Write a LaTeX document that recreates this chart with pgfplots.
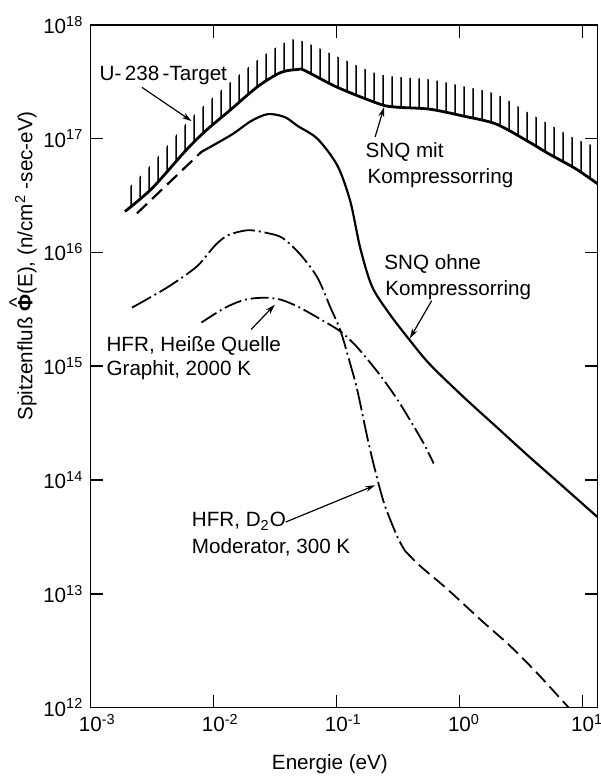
\documentclass[border=0pt]{standalone}
\usepackage{fontspec}
\setmainfont{Liberation Sans}
\usepackage{pgfplots}
\pgfplotsset{compat=1.18}
\usepgfplotslibrary{fillbetween}
\usetikzlibrary{patterns,arrows.meta}

% vertical hatching for the band above the SNQ curve
\pgfdeclarepatternformonly{vhatch}{\pgfqpoint{0pt}{0pt}}{\pgfqpoint{4.6pt}{4pt}}{\pgfqpoint{4.6pt}{4pt}}{%
  \pgfsetlinewidth{0.75pt}%
  \pgfpathmoveto{\pgfqpoint{2.3pt}{0pt}}%
  \pgfpathlineto{\pgfqpoint{2.3pt}{4pt}}%
  \pgfusepath{stroke}}

\newcommand{\lbl}{\fontsize{10.4}{12.5}\selectfont}
% bold Phi with a hat on top
\newcommand{\Phihat}{{\ooalign{\textbf{Φ}\cr\hidewidth\raisebox{0.42em}{\textasciicircum}\hidewidth\cr}}}

\begin{document}
\begin{tikzpicture}
% page frame, in 0.5pt units measured from the top left corner
\begin{scope}[x=0.5pt,y=-0.5pt,shift={(-45.5pt,356.5pt)}]
  \useasboundingbox (0,0) rectangle (603,780);
\end{scope}

\begin{axis}[
  at={(0pt,0pt)}, anchor=south west,
  scale only axis, width=255.5pt, height=344pt,
  xmode=log, ymode=log,
  xmin=1e-3, xmax=13.21, ymin=1e12, ymax=1e18,
  xtick={1e-3,1e-2,1e-1,1,10},
  xticklabels={10\rlap{\textsuperscript{-3}},10\rlap{\textsuperscript{-2}},10\rlap{\textsuperscript{-1}},10\rlap{\textsuperscript{0}},10\rlap{\textsuperscript{1}}},
  ytick={1e12,1e13,1e14,1e15,1e16,1e17,1e18},
  yticklabels={10\textsuperscript{12},10\textsuperscript{13},10\textsuperscript{14},10\textsuperscript{15},10\textsuperscript{16},10\textsuperscript{17},10\textsuperscript{18}},
  xminorticks=false, yminorticks=false,
  tick align=inside, major tick length=6.5pt,
  axis line style={line width=0.8pt},
  tick style={line width=0.8pt, black},
  tick label style={font=\lbl},
  label style={font=\lbl},
  xlabel={Energie (eV)},
  ylabel={Spitzenfluß \Phihat(E), (n/cm\textsuperscript{2} -sec-eV)},
  xlabel style={at={(axis description cs:0.4725,-0.0901)}, anchor=base},
  ylabel style={at={(axis description cs:-0.127,0.647)}, anchor=center},
]

% SNQ mit Kompressorring (U-238-Target)
\addplot[name path=mit, line width=1.4pt, smooth, tension=0.5] coordinates {
  (1.914e-3,2.29e16) (3.162e-3,3.64e16) (5.94e-3,7.81e16) (8.62e-3,1.166e17)
  (1.397e-2,1.814e17) (2.306e-2,2.88e17) (3.536e-2,3.815e17) (4.85e-2,4.05e17)
  (5.52e-2,3.97e17) (0.1019,2.82e17) (0.2263,2.006e17) (0.3103,1.889e17)
  (0.5729,1.814e17) (1.077,1.577e17) (1.988,1.342e17) (3.668,9.35e16)
  (5.32,7.35e16) (8.78,5.44e16) (13.2,4.02e16)
};
% upper end of the hatched band
\addplot[draw=none, name path=env, smooth, tension=0.5] coordinates {
  (1.914e-3,3.43e16) (3.162e-3,6.01e16) (5.94e-3,1.342e17) (8.62e-3,2.006e17)
  (1.397e-2,3.18e17) (2.306e-2,4.95e17) (3.536e-2,6.69e17) (4.85e-2,7.40e17)
  (0.1019,5.26e17) (0.2263,3.66e17) (0.5729,3.31e17) (1.077,2.88e17)
  (1.988,2.45e17) (3.668,1.675e17) (5.32,1.342e17) (8.78,9.93e16) (13.2,8.46e16)
};
\addplot[pattern=vhatch, draw=none] fill between[of=mit and env];

% SNQ ohne Kompressorring
\addplot[line width=1.1pt, dash pattern=on 7pt off 3.5pt] coordinates {
  (2.393e-3,2.203e16) (8.0e-3,7.65e16)
};
\addplot[line width=1.1pt, smooth, tension=0.5] coordinates {
  (8.0e-3,7.65e16) (1.397e-2,1.077e17) (2.025e-2,1.426e17) (2.777e-2,1.641e17)
  (3.807e-2,1.545e17) (4.85e-2,1.29e17) (7.03e-2,9.93e16) (0.1019,5.78e16)
  (0.1297,2.80e16) (0.1562,1.091e16) (0.1951,4.99e15)
  (0.2726,2.842e15) (0.3953,1.686e15) (0.5729,1.041e15) (1.077,5.37e14)
  (1.988,2.94e14) (3.668,1.609e14) (6.90,8.81e13) (13.2,4.73e13)
};

% HFR, D2O moderator, 300 K
\addplot[line width=0.9pt, smooth, tension=0.5, dash pattern=on 11pt off 2pt on 1pt off 2pt] coordinates {
  (2.181e-3,3.27e15) (3.807e-3,4.60e15) (5.52e-3,5.97e15) (7.57e-3,7.76e15)
  (1.038e-2,1.159e16) (1.321e-2,1.417e16) (1.915e-2,1.566e16) (2.777e-2,1.475e16)
  (3.668e-2,1.334e16) (5.13e-2,9.48e15) (7.03e-2,5.97e15) (8.95e-2,3.27e15)
  (0.1077,2.06e15) (0.1297,1.041e15) (0.1477,6.18e14) (0.1778,2.40e14)
  (0.2025,1.316e14) (0.2438,6.26e13) (0.3103,3.23e13) (0.3601,2.39e13)
};
\addplot[line width=0.9pt, smooth, tension=0.5, dash pattern=on 7pt off 3pt] coordinates {
  (0.3601,2.39e13) (0.4758,1.767e13) (0.7855,1.113e13) (1.561,5.63e12)
  (2.53,3.55e12) (4.18,2.06e12) (6.40,1.248e12) (7.71,1.0e12)
};

% HFR, hot graphite source, 2000 K
\addplot[line width=0.9pt, smooth, tension=0.5, dash pattern=on 9pt off 2pt on 0.9pt off 2pt] coordinates {
  (8.0e-3,2.42e15) (1.25e-2,3.27e15) (1.811e-2,3.84e15) (2.627e-2,4.00e15)
  (3.536e-2,3.84e15) (4.85e-2,3.34e15) (7.03e-2,2.675e15) (0.1077,2.02e15)
  (0.1477,1.465e15) (0.2263,8.35e14) (0.3103,5.16e14) (0.3953,3.38e14)
  (0.5125,2.09e14) (0.617,1.398e14)
};
\end{axis}

% curve labels and pointers
\begin{scope}[x=0.5pt,y=-0.5pt,shift={(-45.5pt,356.5pt)},
  every node/.style={font=\lbl, inner sep=0pt},
  ptr/.style={line width=0.6pt, -{Stealth[length=5pt,width=3pt]}}]
  \node[anchor=base west] at (100,81) {U-\,238\,-Target};
  \draw[ptr] (143,88) -- (193,122);
  \node[anchor=base west] at (368,159) {SNQ mit};
  \node[anchor=base west] at (370,185) {Kompressorring};
  \draw[ptr] (378,138) -- (387,108);
  \node[anchor=base west] at (387,272) {SNQ ohne};
  \node[anchor=base west] at (388,298) {Kompressorring};
  \draw[ptr] (435,303) -- (413,341);
  \node[anchor=base west] at (107,354) {HFR, Heiße Quelle};
  \node[anchor=base west] at (107,378) {Graphit, 2000 K};
  \draw[ptr] (253,332) -- (277,307);
  \node[anchor=base west] at (193,531) {HFR, D\textsubscript{2}O};
  \node[anchor=base west] at (193,558) {Moderator, 300 K};
  \draw[ptr] (288,526) -- (378,489);
\end{scope}
\end{tikzpicture}
\end{document}
